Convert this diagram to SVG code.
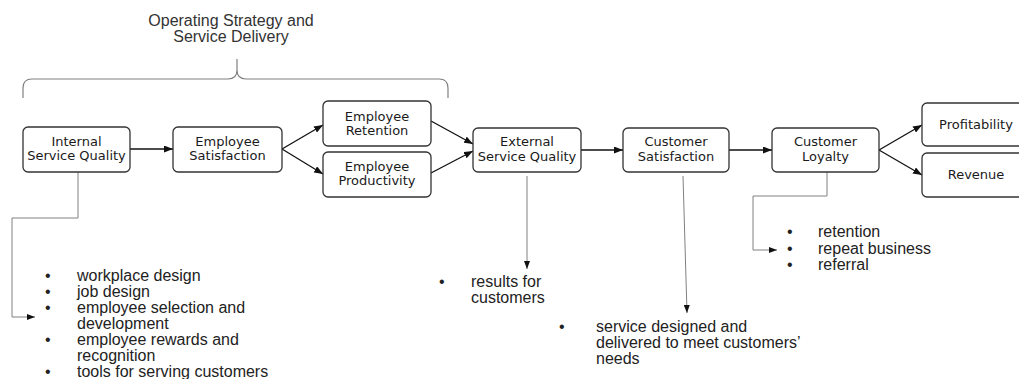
<svg xmlns="http://www.w3.org/2000/svg" width="1019" height="379" viewBox="0 0 1019 379">
<style>
.box{fill:#fff;stroke:#333;stroke-width:1.3}
.bt{font-family:"DejaVu Sans","Open Sans",sans-serif;font-size:13px;fill:#1a1a1a;text-anchor:middle}
.lt{font-family:"Liberation Sans",Arial,sans-serif;font-size:16px;fill:#222}
.ttl{font-family:"Liberation Sans",Arial,sans-serif;font-size:16px;fill:#333;text-anchor:middle}
.flow{fill:none;stroke:#111;stroke-width:1.3;marker-end:url(#ah)}
.drop{fill:none;stroke:#808080;stroke-width:1;marker-end:url(#ahs)}
.brace{fill:none;stroke:#808080;stroke-width:1.2}
</style>
<defs>
<marker id="ah" viewBox="0 0 10 10" refX="10" refY="5" markerWidth="9" markerHeight="7" markerUnits="userSpaceOnUse" orient="auto" preserveAspectRatio="none"><path d="M0,0 L10,5 L0,10 z" fill="#111"/></marker>
<marker id="ahs" viewBox="0 0 10 10" refX="10" refY="5" markerWidth="8" markerHeight="6" markerUnits="userSpaceOnUse" orient="auto" preserveAspectRatio="none"><path d="M0,0 L10,5 L0,10 z" fill="#111"/></marker>
</defs>

<g id="title">
<text class="ttl" x="231" y="26">Operating Strategy and<tspan x="231" y="41.5">Service Delivery</tspan></text>
<path class="brace" d="M23,98 L23,88 Q23,79 32,79 L228,79 Q237,79 237,70 L237,59 M237,70 Q237,79 246,79 L439,79 Q448,79 448,88 L448,98"/>
</g>

<g id="connectors">
<line class="flow" x1="130" y1="149" x2="173" y2="149"/>
<line class="flow" x1="282" y1="149" x2="323" y2="125"/>
<line class="flow" x1="282" y1="149" x2="323" y2="174"/>
<line class="flow" x1="431" y1="121" x2="473" y2="144"/>
<line class="flow" x1="431" y1="173" x2="473" y2="151"/>
<line class="flow" x1="581" y1="150" x2="623" y2="150"/>
<line class="flow" x1="729" y1="150" x2="772" y2="150"/>
<line class="flow" x1="879" y1="150" x2="922" y2="125"/>
<line class="flow" x1="879" y1="150" x2="922" y2="175"/>
<path class="drop" d="M78,172 V218 H12 V317 H35"/>
<path class="drop" d="M527,176 V269"/>
<path class="drop" d="M683,176 L687,313"/>
<path class="drop" d="M827,172 V196 H753 V250 H777"/>
</g>

<g id="isq">
<rect class="box" x="23" y="127" width="107" height="45" rx="5"/>
<text class="bt" x="76.5" y="145.5">Internal<tspan x="76.5" y="160">Service Quality</tspan></text>
</g>
<g id="es">
<rect class="box" x="173" y="127" width="109" height="45" rx="5"/>
<text class="bt" x="227.5" y="145.5">Employee<tspan x="227.5" y="160">Satisfaction</tspan></text>
</g>
<g id="er">
<rect class="box" x="323" y="101" width="108" height="45" rx="5"/>
<text class="bt" x="377" y="120.5">Employee<tspan x="377" y="135">Retention</tspan></text>
</g>
<g id="ep">
<rect class="box" x="323" y="152" width="108" height="45" rx="5"/>
<text class="bt" x="377" y="170.5">Employee<tspan x="377" y="185">Productivity</tspan></text>
</g>
<g id="esq">
<rect class="box" x="473" y="128" width="108" height="44" rx="5"/>
<text class="bt" x="527" y="146">External<tspan x="527" y="160.5">Service Quality</tspan></text>
</g>
<g id="cs">
<rect class="box" x="623" y="128" width="106" height="44" rx="5"/>
<text class="bt" x="676" y="146">Customer<tspan x="676" y="160.5">Satisfaction</tspan></text>
</g>
<g id="cl">
<rect class="box" x="772" y="128" width="107" height="44" rx="5"/>
<text class="bt" x="825.5" y="146">Customer<tspan x="825.5" y="160.5">Loyalty</tspan></text>
</g>
<g id="profit">
<rect class="box" x="922" y="103" width="108" height="43" rx="5"/>
<text class="bt" x="976" y="129">Profitability</text>
</g>
<g id="revenue">
<rect class="box" x="922" y="153" width="108" height="44" rx="5"/>
<text class="bt" x="976" y="179">Revenue</text>
</g>

<g id="isq-list">
<text class="lt" x="45" y="281">•</text><text class="lt" x="77" y="281">workplace design</text>
<text class="lt" x="45" y="297">•</text><text class="lt" x="77" y="297">job design</text>
<text class="lt" x="45" y="313">•</text><text class="lt" x="77" y="313">employee selection and<tspan x="77" y="329">development</tspan></text>
<text class="lt" x="45" y="345">•</text><text class="lt" x="77" y="345">employee rewards and<tspan x="77" y="361">recognition</tspan></text>
<text class="lt" x="45" y="377">•</text><text class="lt" x="77" y="377">tools for serving customers</text>
</g>
<g id="esq-list">
<text class="lt" x="439" y="287">•</text><text class="lt" x="471" y="287">results for<tspan x="471" y="303">customers</tspan></text>
</g>
<g id="cs-list">
<text class="lt" x="559" y="331.5">•</text><text class="lt" x="596" y="331.5">service designed and<tspan x="596" y="347.5">delivered to meet customers’</tspan><tspan x="596" y="363.5">needs</tspan></text>
</g>
<g id="cl-list">
<text class="lt" x="787" y="237">•</text><text class="lt" x="818" y="237">retention</text>
<text class="lt" x="787" y="253.5">•</text><text class="lt" x="818" y="253.5">repeat business</text>
<text class="lt" x="787" y="270">•</text><text class="lt" x="818" y="270">referral</text>
</g>
</svg>
